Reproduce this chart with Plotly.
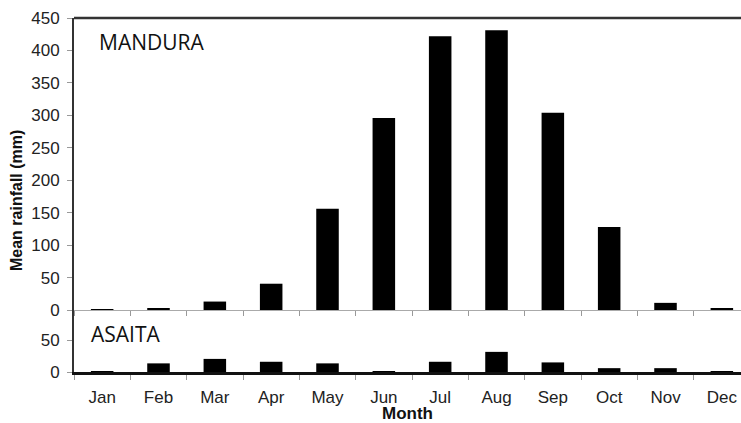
import plotly.graph_objects as go
from plotly.subplots import make_subplots

months = ["Jan", "Feb", "Mar", "Apr", "May", "Jun",
          "Jul", "Aug", "Sep", "Oct", "Nov", "Dec"]
mandura_rain = [1, 2.5, 13, 40.5, 156, 296, 422, 431, 304, 128, 11, 2.5]
asaita_rain = [0.8, 13.5, 20.5, 16, 13.5, 1, 16, 31.5, 15, 6, 6, 0.5]

W, H = 741, 423
L, T, B = 74, 18, 51
plot_h = H - T - B
split = 62 / plot_h  # fraction of the plot height used by the lower panel

fig = make_subplots(rows=2, cols=1, shared_xaxes=False, vertical_spacing=0,
                    row_heights=[1 - split, split])

bar_kw = dict(marker=dict(color="black", line=dict(width=0)), width=0.4,
              showlegend=False, hoverinfo="x+y")
fig.add_trace(go.Bar(x=months, y=mandura_rain, name="MANDURA", **bar_kw), row=1, col=1)
fig.add_trace(go.Bar(x=months, y=asaita_rain, name="ASAITA", **bar_kw), row=2, col=1)

tick_font = dict(family="Liberation Sans, Arial, sans-serif", size=17, color="#222")
xr = [-0.5, 11.34]

fig.update_xaxes(type="category", range=xr, tickson="boundaries", ticks="outside",
                 ticklen=5, tickcolor="#999", tickwidth=1, showgrid=False,
                 zeroline=False)
fig.update_xaxes(row=1, col=1, showticklabels=False, showline=True,
                 linecolor="#aaa", linewidth=1.2)
fig.update_xaxes(row=2, col=1, showticklabels=True, showline=True,
                 linecolor="#111", linewidth=2.5, tickfont=tick_font,
                 ticklabelstandoff=8,
                 title=dict(text="<b>Month</b>", standoff=0,
                            font=dict(family="Liberation Sans, Arial, sans-serif",
                                      size=17, color="#111")))

fig.update_yaxes(ticks="outside", ticklen=5, tickcolor="#999", tickwidth=1,
                 showgrid=False, zeroline=False, showline=True,
                 linecolor="#333", linewidth=2, tickfont=tick_font,
                 ticklabelstandoff=4)
fig.update_yaxes(row=1, col=1, range=[0, 450], tickvals=list(range(0, 451, 50)))
fig.update_yaxes(row=2, col=1, range=[0, 97], tickvals=[0, 50])

# frame line along the top of the upper panel
fig.add_shape(type="line", xref="paper", yref="paper", x0=0, x1=1, y0=1, y1=1,
              line=dict(color="#333", width=2.5))

fig.add_annotation(text="MANDURA", xref="paper", yref="paper", x=0.034, y=1 - 24 / plot_h,
                   xanchor="left", yanchor="middle", showarrow=False,
                   font=dict(family="Open Sans, sans-serif", size=21, color="#111"))
fig.add_annotation(text="ASAITA", xref="paper", yref="paper", x=0.022, y=(372 - 334) / plot_h,
                   xanchor="left", yanchor="middle", showarrow=False,
                   font=dict(family="Open Sans, sans-serif", size=21, color="#111"))
fig.add_annotation(text="<b>Mean rainfall (mm)</b>", xref="paper", yref="paper",
                   x=-(L - 17) / (W - L), y=(372 - 201) / plot_h, textangle=-90,
                   xanchor="center", yanchor="middle", showarrow=False,
                   font=dict(family="Liberation Sans, Arial, sans-serif", size=16, color="#111"))

fig.update_layout(width=W, height=H, margin=dict(l=L, r=0, t=T, b=B),
                  plot_bgcolor="white", paper_bgcolor="white", bargap=0.6)

fig.write_html("out.html")
